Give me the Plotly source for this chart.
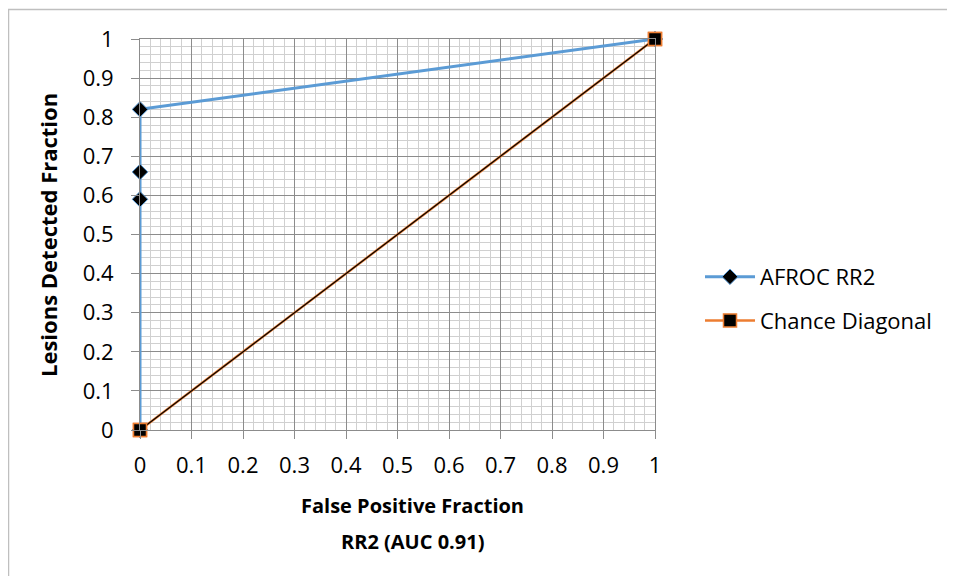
import plotly.graph_objects as go

afroc_x = [0, 0, 0, 0, 1]
afroc_y = [0, 0.59, 0.66, 0.82, 1]
chance_x = [0, 1]
chance_y = [0, 1]
tick_vals = [0, 0.1, 0.2, 0.3, 0.4, 0.5, 0.6, 0.7, 0.8, 0.9, 1]
tick_text = ["0", "0.1", "0.2", "0.3", "0.4", "0.5", "0.6", "0.7", "0.8", "0.9", "1"]

FONT = "Open Sans"
BLUE = "#5B9BD5"
ORANGE = "#ED7D31"
MAJOR = "#8C8C8C"
MINOR = "#D0D0D0"

# page body has an 8px margin; screen coords = figure coords + 8
OFF = 8
W, H = 955 - OFF, 576 - OFF
PX0, PX1, PY0, PY1 = 140, 655, 39, 430  # plot area in screen px
L, T = PX0 - OFF, PY0 - OFF
R, B = W - (PX1 - OFF), H - (PY1 - OFF)
pw, ph = PX1 - PX0, PY1 - PY0


def sx(px):
    return (px - PX0) / pw


def sy(py):
    return (PY1 - py) / ph


fig = go.Figure()
fig.add_trace(go.Scatter(
    x=afroc_x, y=afroc_y, mode="lines+markers", name="AFROC RR2",
    line=dict(color=BLUE, width=3), cliponaxis=False,
    marker=dict(symbol="diamond", size=12, color="black", line=dict(color=BLUE, width=1)),
    legendgroup="a",
))
fig.add_trace(go.Scatter(
    x=chance_x, y=chance_y, mode="lines+markers", name="Chance Diagonal",
    line=dict(color=ORANGE, width=2.5), cliponaxis=False,
    marker=dict(symbol="square", size=13, color="black", line=dict(color=ORANGE, width=1.5)),
    legendgroup="b",
))
fig.add_trace(go.Scatter(
    x=chance_x, y=chance_y, mode="lines", showlegend=False, cliponaxis=False,
    line=dict(color="black", width=1.2), hoverinfo="skip",
))
fig.add_trace(go.Scatter(
    x=chance_x, y=chance_y, mode="markers", showlegend=False, cliponaxis=False,
    marker=dict(symbol="square", size=13, color="black", line=dict(color=ORANGE, width=1.5)),
    hoverinfo="skip",
))

axis_common = dict(
    range=[0, 1], tickvals=tick_vals, ticktext=tick_text,
    showgrid=True, gridcolor=MAJOR, gridwidth=1,
    showline=True, linecolor=MAJOR, linewidth=1, mirror=True,
    zeroline=False, ticks="outside", ticklen=8, tickcolor=MAJOR,
    tickfont=dict(family=FONT, size=22, color="black"),
    minor=dict(dtick=0.02, showgrid=True, gridcolor=MINOR, gridwidth=1, ticks=""),
    fixedrange=True,
)
fig.update_xaxes(**axis_common, ticklabelstandoff=8)
fig.update_yaxes(**axis_common, ticklabelstandoff=13)

fig.add_annotation(xref="paper", yref="paper", x=sx(48), y=sy(235), textangle=-90,
                   text="<b>Lesions Detected Fraction</b>", showarrow=False,
                   font=dict(family=FONT, size=22, color="black"),
                   xanchor="center", yanchor="middle")
fig.add_annotation(xref="paper", yref="paper", x=sx(412), y=sy(505),
                   text="<b>False Positive Fraction</b>", showarrow=False,
                   font=dict(family=FONT, size=20, color="black"), yanchor="middle")
fig.add_annotation(xref="paper", yref="paper", x=sx(412), y=sy(541),
                   text="<b>RR2 (AUC 0.91)</b>", showarrow=False,
                   font=dict(family=FONT, size=20, color="black"), yanchor="middle")

fig.add_shape(type="rect", xref="paper", yref="paper",
              x0=sx(8.5), x1=sx(970), y0=sy(590), y1=sy(9.5),
              line=dict(color="#BFBFBF", width=1.5), fillcolor="rgba(0,0,0,0)", layer="below")

fig.update_layout(
    width=W, height=H,
    margin=dict(l=L, r=R, t=T, b=B, pad=0),
    paper_bgcolor="white", plot_bgcolor="white",
    font=dict(family=FONT, size=22, color="black"),
    legend=dict(x=sx(700), y=sy(299), xanchor="left", yanchor="middle",
                font=dict(family=FONT, size=22, color="black"),
                tracegroupgap=12, itemwidth=50, bgcolor="rgba(0,0,0,0)"),
    showlegend=True,
)

fig.write_html("out.html")
